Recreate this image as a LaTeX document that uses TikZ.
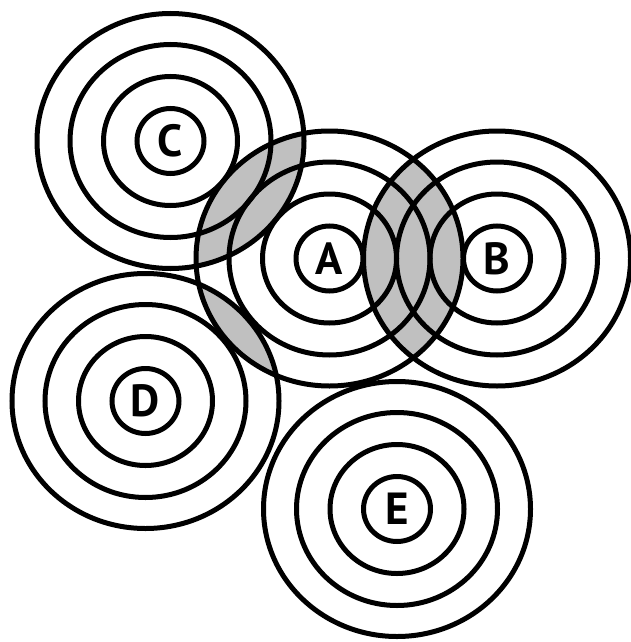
\documentclass[tikz,border=0pt]{standalone}
\usepackage{fontspec}
\setmainfont{PT Sans}
\begin{document}
\begin{tikzpicture}[x=1pt,y=-1pt,
  ring/.style={draw=black,line width=5pt},
  lens/.style={fill=lensgray},
  lbl/.style={inner sep=0pt,font=\fontsize{45}{45}\selectfont\bfseries}]
\definecolor{lensgray}{HTML}{C0C0C0}
\useasboundingbox (0,0) rectangle (631,642);
% centres / labels
\node[lbl] (A) at (329.5,258.5) {A};
\node[lbl] (B) at (497,258.5) {B};
\node[lbl] (C) at (170.5,141) {C};
\node[lbl] (D) at (145.5,401) {D};
\node[lbl] (E) at (397,509) {E};
\tikzset{outer/.style={x radius=133.5pt,y radius=127.5pt}}
% shaded overlaps
\begin{scope}
  \clip (A.center) ellipse [outer];
  \fill[lens] (B.center) ellipse [outer];
  \fill[lens] (C.center) ellipse [outer];
  \fill[lens] (D.center) ellipse [outer];
\end{scope}
% rings
\foreach \c in {A,B,C,D,E}{
  \draw[ring] (\c.center) ellipse [x radius=33.5pt,y radius=32.5pt];
  \draw[ring] (\c.center) ellipse [x radius=67pt,y radius=64.5pt];
  \draw[ring] (\c.center) ellipse [x radius=100.5pt,y radius=96.5pt];
  \draw[ring] (\c.center) ellipse [outer];
}
\end{tikzpicture}
\end{document}
